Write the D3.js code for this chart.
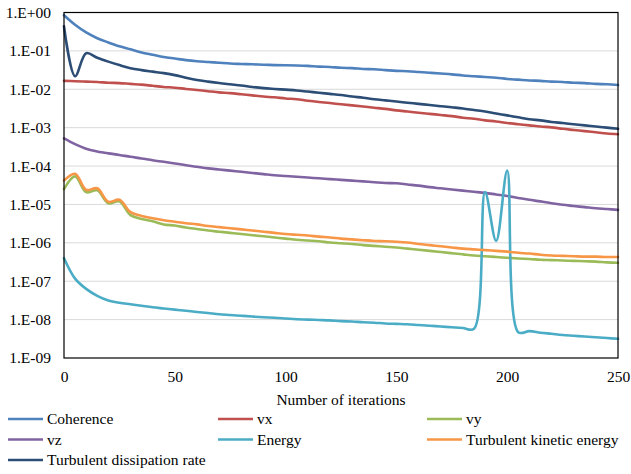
<!DOCTYPE html>
<html>
<head>
<meta charset="utf-8">
<script src="https://cdn.jsdelivr.net/npm/d3@7"></script>
<style>
  html, body { margin: 0; padding: 0; background: #fff; }
  svg text { font-family: "Liberation Serif", "Times New Roman", serif; fill: #000; }
</style>
</head>
<body>
<svg id="chart" width="631" height="474" font-family="'Liberation Serif', serif"></svg>
<script>
const iterations = d3.range(0, 251, 5);

const coherence = [8.51e-1,4.79e-1,3.02e-1,2.14e-1,1.66e-1,1.32e-1,1.10e-1,9.12e-2,7.94e-2,6.92e-2,
  6.31e-2,5.75e-2,5.37e-2,5.13e-2,4.90e-2,4.68e-2,4.57e-2,4.47e-2,4.37e-2,4.27e-2,
  4.22e-2,4.17e-2,4.07e-2,3.89e-2,3.80e-2,3.63e-2,3.55e-2,3.39e-2,3.31e-2,3.16e-2,
  3.02e-2,2.95e-2,2.82e-2,2.69e-2,2.57e-2,2.45e-2,2.29e-2,2.19e-2,2.09e-2,2.00e-2,
  1.86e-2,1.78e-2,1.70e-2,1.66e-2,1.58e-2,1.55e-2,1.48e-2,1.45e-2,1.38e-2,1.35e-2,1.29e-2];

const vx = [1.66e-2,1.62e-2,1.58e-2,1.55e-2,1.48e-2,1.45e-2,1.38e-2,1.32e-2,1.23e-2,1.15e-2,
  1.10e-2,1.02e-2,9.55e-3,8.91e-3,8.32e-3,7.94e-3,7.41e-3,6.92e-3,6.46e-3,6.17e-3,
  5.75e-3,5.50e-3,5.01e-3,4.68e-3,4.37e-3,4.07e-3,3.80e-3,3.55e-3,3.31e-3,3.09e-3,
  2.82e-3,2.63e-3,2.45e-3,2.29e-3,2.14e-3,2.00e-3,1.82e-3,1.70e-3,1.55e-3,1.45e-3,
  1.32e-3,1.23e-3,1.15e-3,1.07e-3,1.02e-3,9.33e-4,8.71e-4,8.13e-4,7.59e-4,7.08e-4,6.76e-4];

const vy = [2.51e-5,5.37e-5,2.09e-5,2.34e-5,1.07e-5,1.20e-5,5.25e-6,4.17e-6,3.63e-6,3.02e-6,
  2.82e-6,2.51e-6,2.29e-6,2.09e-6,1.95e-6,1.82e-6,1.70e-6,1.58e-6,1.48e-6,1.38e-6,
  1.29e-6,1.20e-6,1.15e-6,1.10e-6,1.02e-6,9.77e-7,9.33e-7,8.71e-7,8.32e-7,7.94e-7,
  7.59e-7,7.08e-7,6.61e-7,6.17e-7,5.75e-7,5.37e-7,5.01e-7,4.68e-7,4.47e-7,4.27e-7,
  4.07e-7,3.89e-7,3.80e-7,3.63e-7,3.55e-7,3.47e-7,3.39e-7,3.31e-7,3.24e-7,3.09e-7,3.02e-7];

const vz = [5.25e-4,3.72e-4,2.82e-4,2.40e-4,2.14e-4,1.95e-4,1.74e-4,1.58e-4,1.41e-4,1.29e-4,
  1.17e-4,1.05e-4,9.55e-5,8.71e-5,8.13e-5,7.59e-5,7.08e-5,6.61e-5,6.17e-5,5.75e-5,
  5.50e-5,5.25e-5,5.01e-5,4.79e-5,4.57e-5,4.37e-5,4.17e-5,3.98e-5,3.80e-5,3.63e-5,
  3.55e-5,3.31e-5,3.09e-5,2.82e-5,2.63e-5,2.45e-5,2.29e-5,2.14e-5,2.00e-5,1.82e-5,
  1.66e-5,1.48e-5,1.32e-5,1.20e-5,1.07e-5,9.77e-6,9.12e-6,8.51e-6,7.94e-6,7.59e-6,7.24e-6];

const energy = [3.98e-7,1.17e-7,6.31e-8,4.17e-8,3.16e-8,2.75e-8,2.51e-8,2.29e-8,2.09e-8,1.95e-8,
  1.82e-8,1.70e-8,1.58e-8,1.48e-8,1.38e-8,1.32e-8,1.26e-8,1.20e-8,1.15e-8,1.12e-8,
  1.07e-8,1.02e-8,1.00e-8,9.77e-9,9.55e-9,9.12e-9,8.91e-9,8.51e-9,8.32e-9,7.94e-9,
  7.76e-9,7.59e-9,7.24e-9,6.92e-9,6.61e-9,6.31e-9,6.03e-9,5.75e-9,2.09e-5,1.12e-6,
  7.59e-5,4.68e-9,5.01e-9,4.57e-9,4.27e-9,3.98e-9,3.80e-9,3.63e-9,3.47e-9,3.31e-9,3.16e-9];

const tke = [4.17e-5,6.31e-5,2.40e-5,2.63e-5,1.17e-5,1.32e-5,6.31e-6,5.01e-6,4.37e-6,3.89e-6,
  3.55e-6,3.24e-6,3.02e-6,2.75e-6,2.57e-6,2.40e-6,2.24e-6,2.09e-6,1.95e-6,1.82e-6,
  1.70e-6,1.62e-6,1.55e-6,1.45e-6,1.38e-6,1.29e-6,1.23e-6,1.17e-6,1.12e-6,1.10e-6,
  1.07e-6,1.02e-6,9.33e-7,8.71e-7,8.13e-7,7.59e-7,7.08e-7,6.76e-7,6.46e-7,6.17e-7,
  5.89e-7,5.50e-7,5.25e-7,4.90e-7,4.68e-7,4.57e-7,4.47e-7,4.37e-7,4.37e-7,4.27e-7,4.27e-7];

const tdr = [4.37e-1,2.19e-2,8.71e-2,6.61e-2,5.25e-2,4.27e-2,3.55e-2,3.16e-2,2.88e-2,2.63e-2,
  2.34e-2,2.00e-2,1.74e-2,1.58e-2,1.45e-2,1.35e-2,1.26e-2,1.15e-2,1.07e-2,1.02e-2,
  9.77e-3,9.33e-3,8.71e-3,8.13e-3,7.59e-3,7.08e-3,6.46e-3,6.03e-3,5.50e-3,5.13e-3,
  4.79e-3,4.47e-3,4.17e-3,3.89e-3,3.63e-3,3.39e-3,3.16e-3,2.88e-3,2.63e-3,2.34e-3,
  2.09e-3,1.86e-3,1.66e-3,1.55e-3,1.41e-3,1.32e-3,1.23e-3,1.15e-3,1.07e-3,1.00e-3,9.33e-4];

const seriesNames = ["Coherence","vx","vy","vz","Energy","Turbulent kinetic energy","Turbulent dissipation rate"];
const seriesValues = [coherence, vx, vy, vz, energy, tke, tdr];
const seriesColors = ["#4F81BD","#C0504D","#9BBB59","#8064A2","#4BACC6","#F79646","#2C4D75"];

const yTickValues = [1e0,1e-1,1e-2,1e-3,1e-4,1e-5,1e-6,1e-7,1e-8,1e-9];
const yTickLabels = ["1.E+00","1.E-01","1.E-02","1.E-03","1.E-04","1.E-05","1.E-06","1.E-07","1.E-08","1.E-09"];
const xTickValues = [0,50,100,150,200,250];
const xTitle = "Number of iterations";

const FONT = "'Liberation Serif', 'Times New Roman', serif";
const FS = "15.5px";

const svg = d3.select("#chart");
const L = 64, R = 618, T = 12.5, B = 358;

const x = d3.scaleLinear().domain([0, 250]).range([L, R]);
const y = d3.scaleLog().domain([1e-9, 1]).range([B, T]);

// gridlines
svg.append("g").selectAll("line").data(yTickValues.slice(0, -1)).join("line")
  .attr("x1", L).attr("x2", R)
  .attr("y1", d => y(d)).attr("y2", d => y(d))
  .attr("stroke", "#D9D9D9").attr("stroke-width", 1);

// y axis labels
const yAxis = d3.axisLeft(y).tickValues(yTickValues)
  .tickFormat((d, i) => yTickLabels[i]).tickSize(0).tickPadding(13);
const gy = svg.append("g").attr("transform", `translate(${L},0)`).call(yAxis)
  .attr("font-family", FONT).attr("font-size", FS);
gy.select(".domain").remove();
gy.selectAll("text").style("font-family", FONT).style("font-size", FS).attr("fill", "#000");

// x axis labels
const xAxis = d3.axisBottom(x).tickValues(xTickValues).tickFormat(d3.format("d")).tickSize(0).tickPadding(13);
const gx = svg.append("g").attr("transform", `translate(0,${B})`).call(xAxis)
  .attr("font-family", FONT).attr("font-size", FS);
gx.select(".domain").remove();
gx.selectAll("text").style("font-family", FONT).style("font-size", FS).attr("fill", "#000");

svg.append("text").attr("x", (L + R) / 2).attr("y", 405)
  .attr("text-anchor", "middle").style("font-family", FONT).style("font-size", FS).text(xTitle);

// lines
const line = d3.line()
  .x((d, i) => x(iterations[i]))
  .y(d => y(d))
  .curve(d3.curveCatmullRom.alpha(0.5));

svg.append("g").selectAll("path").data(seriesValues).join("path")
  .attr("d", d => line(d))
  .attr("fill", "none")
  .attr("stroke", (d, i) => seriesColors[i])
  .attr("stroke-width", 2.6)
  .attr("stroke-linejoin", "round")
  .attr("stroke-linecap", "round");

// plot border
svg.append("rect").attr("x", L).attr("y", T).attr("width", R - L).attr("height", B - T)
  .attr("fill", "none").attr("stroke", "#000").attr("stroke-width", 1.2);

// legend
const legX = [8, 218, 427];
const legY = [419, 439.5, 460];
const leg = svg.append("g").selectAll("g").data(seriesNames).join("g")
  .attr("transform", (d, i) => `translate(${legX[i % 3]},${legY[Math.floor(i / 3)]})`);
leg.append("line").attr("x1", 0).attr("x2", 35).attr("y1", 0).attr("y2", 0)
  .attr("stroke", (d, i) => seriesColors[i]).attr("stroke-width", 2.6);
leg.append("text").attr("x", 39).attr("y", 0).attr("dy", "0.33em")
  .style("font-family", FONT).style("font-size", FS).text(d => d);
</script>
</body>
</html>
